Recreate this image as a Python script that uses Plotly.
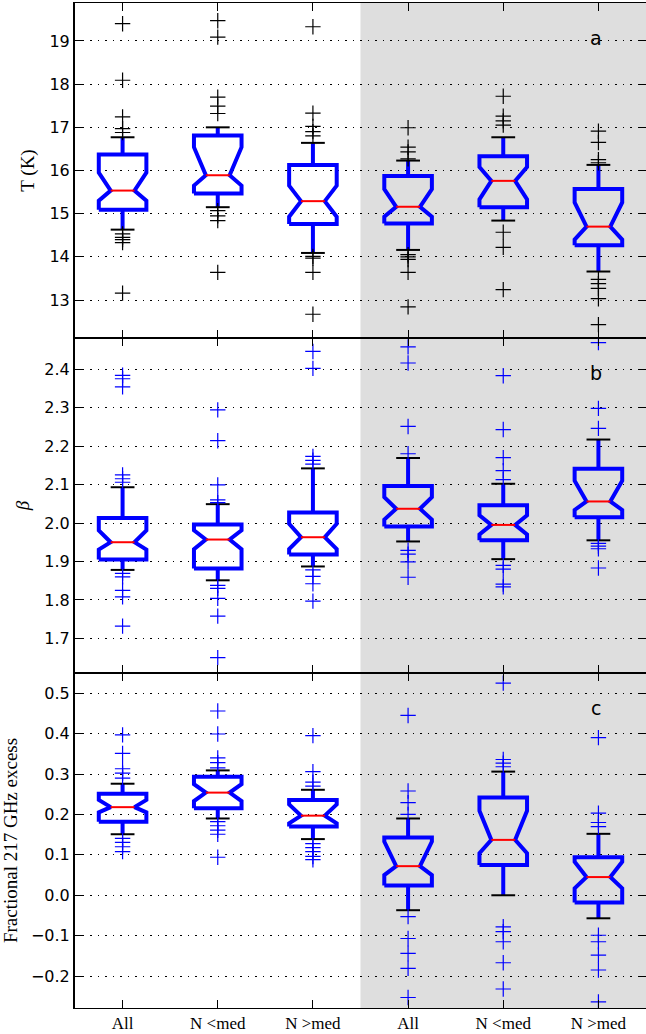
import plotly.graph_objects as go
from plotly.subplots import make_subplots

categories = ["All", "N &lt;med", "N &gt;med", "All", "N &lt;med", "N &gt;med"]
positions = [1, 2, 3, 4, 5, 6]

# panel a : dust temperature
T_q1 = [15.09, 15.47, 14.76, 14.77, 15.15, 14.27]
T_med = [15.535, 15.89, 15.29, 15.16, 15.76, 14.70]
T_q3 = [16.37, 16.81, 16.13, 15.87, 16.33, 15.57]
T_nlo = [15.30, 15.65, 14.93, 14.93, 15.33, 14.40]
T_nhi = [15.95, 16.54, 15.65, 15.57, 16.08, 15.26]
T_wlo = [14.63, 15.15, 14.09, 14.16, 14.84, 13.66]
T_whi = [16.77, 17.00, 16.64, 16.23, 16.77, 16.13]
T_out = [
    [19.40, 18.09, 17.24, 16.97, 16.88, 14.53, 14.45, 14.40, 14.33, 13.16],
    [19.47, 19.09, 17.70, 17.49, 17.32, 15.07, 14.95, 14.84, 13.64],
    [19.33, 17.33, 17.02, 16.90, 16.80, 14.01, 13.97, 13.64, 12.67],
    [16.99, 16.54, 16.43, 16.27, 14.05, 14.00, 13.94, 13.64, 12.84],
    [17.72, 17.26, 17.15, 17.05, 14.57, 14.22, 13.24],
    [16.91, 16.65, 16.25, 16.18, 13.48, 13.38, 13.27, 13.03, 12.43],
]

# panel b : beta
B_q1 = [1.905, 1.882, 1.918, 1.991, 1.955, 2.015]
B_med = [1.950, 1.957, 1.963, 2.037, 1.995, 2.056]
B_q3 = [2.013, 1.996, 2.027, 2.096, 2.046, 2.141]
B_nlo = [1.931, 1.932, 1.932, 2.009, 1.970, 2.034]
B_nhi = [1.981, 1.981, 1.998, 2.067, 2.020, 2.110]
B_wlo = [1.878, 1.851, 1.887, 1.952, 1.906, 1.955]
B_whi = [2.093, 2.049, 2.142, 2.169, 2.102, 2.217]
B_out = [
    [2.384, 2.375, 2.354, 2.125, 2.115, 2.106, 1.869, 1.860, 1.825, 1.808, 1.732],
    [2.294, 2.214, 2.099, 2.060, 2.053, 1.838, 1.830, 1.804, 1.758, 1.650],
    [2.446, 2.402, 2.173, 2.163, 2.153, 1.878, 1.861, 1.842, 1.797],
    [2.458, 2.416, 2.251, 2.180, 1.929, 1.919, 1.899, 1.859],
    [2.383, 2.243, 2.170, 2.136, 2.113, 1.890, 1.880, 1.841, 1.834],
    [2.469, 2.298, 2.246, 1.947, 1.940, 1.933, 1.883],
]

# panel c : fractional 217 GHz excess
F_q1 = [0.182, 0.215, 0.170, 0.024, 0.075, -0.018]
F_med = [0.218, 0.254, 0.197, 0.072, 0.137, 0.045]
F_q3 = [0.251, 0.293, 0.236, 0.143, 0.242, 0.094]
F_nlo = [0.205, 0.233, 0.178, 0.050, 0.104, 0.017]
F_nhi = [0.236, 0.275, 0.225, 0.133, 0.209, 0.083]
F_wlo = [0.151, 0.190, 0.139, -0.037, 0.000, -0.057]
F_whi = [0.276, 0.309, 0.261, 0.190, 0.306, 0.152]
F_out = [
    [0.397, 0.351, 0.313, 0.302, 0.290, 0.141, 0.131, 0.120, 0.108],
    [0.456, 0.399, 0.340, 0.328, 0.315, 0.182, 0.172, 0.161, 0.151, 0.094],
    [0.395, 0.306, 0.280, 0.270, 0.128, 0.118, 0.108, 0.096, 0.088],
    [0.445, 0.258, 0.229, 0.200, -0.053, -0.107, -0.144, -0.181, -0.253],
    [0.525, 0.336, 0.327, 0.318, -0.078, -0.090, -0.115, -0.167, -0.232],
    [0.390, 0.203, 0.180, 0.170, -0.099, -0.115, -0.148, -0.185, -0.264],
]

panels = [
    (T_q1, T_med, T_q3, T_nlo, T_nhi, T_wlo, T_whi, T_out, "black"),
    (B_q1, B_med, B_q3, B_nlo, B_nhi, B_wlo, B_whi, B_out, "blue"),
    (F_q1, F_med, F_q3, F_nlo, F_nhi, F_wlo, F_whi, F_out, "blue"),
]
y_ranges = [[12.12, 19.88], [1.61, 2.481], [-0.279, 0.55]]
y_ticks = [[13, 14, 15, 16, 17, 18, 19],
           [1.7, 1.8, 1.9, 2.0, 2.1, 2.2, 2.3, 2.4],
           [-0.2, -0.1, 0.0, 0.1, 0.2, 0.3, 0.4, 0.5]]
y_fmt = ["d", ".1f", ".1f"]
y_titles = ["T (K)", "<i>β</i>", "Fractional 217 GHz excess"]
labels = ["a", "b", "c"]

W = 0.5  # box width

fig = make_subplots(rows=3, cols=1, shared_xaxes=True, vertical_spacing=0)

for r, (q1, med, q3, nlo, nhi, wlo, whi, outs, fcol) in enumerate(panels, start=1):
    bx, by, wx, wy, cx, cy, mx, my, ox, oy = [], [], [], [], [], [], [], [], [], []
    for i, x in enumerate(positions):
        L, R = x - W / 2, x + W / 2
        l2, r2 = x - W / 4, x + W / 4
        bx += [L, L, l2, L, L, R, R, r2, R, R, L, None]
        by += [q1[i], nlo[i], med[i], nhi[i], q3[i], q3[i], nhi[i], med[i], nlo[i], q1[i], q1[i], None]
        wx += [x, x, None, x, x, None]
        wy += [q3[i], whi[i], None, q1[i], wlo[i], None]
        cx += [l2, r2, None, l2, r2, None]
        cy += [whi[i], whi[i], None, wlo[i], wlo[i], None]
        mx += [l2, r2, None]
        my += [med[i], med[i], None]
        ox += [x] * len(outs[i])
        oy += outs[i]
    fig.add_trace(go.Scatter(x=wx, y=wy, mode="lines", line=dict(color="blue", width=4),
                             hoverinfo="skip"), row=r, col=1)
    fig.add_trace(go.Scatter(x=cx, y=cy, mode="lines", line=dict(color="black", width=2),
                             hoverinfo="skip"), row=r, col=1)
    fig.add_trace(go.Scatter(x=bx, y=by, mode="lines", line=dict(color="blue", width=4),
                             hoverinfo="skip"), row=r, col=1)
    fig.add_trace(go.Scatter(x=mx, y=my, mode="lines", line=dict(color="red", width=2),
                             hoverinfo="skip"), row=r, col=1)
    fig.add_trace(go.Scatter(x=ox, y=oy, mode="markers",
                             marker=dict(symbol="cross-thin", size=11,
                                         line=dict(color=fcol, width=1.2))),
                  row=r, col=1)

    yref = "y" if r == 1 else "y%d" % r
    xref = "x" if r == 1 else "x%d" % r
    fig.add_shape(type="rect", xref=xref, yref=yref + " domain", x0=3.5, x1=6.5, y0=0, y1=1,
                  fillcolor="#dedede", line_width=0, layer="below")
    fig.add_annotation(xref=xref, yref=yref + " domain", x=5.97, y=0.935, text=labels[r - 1],
                       showarrow=False, font=dict(family="DejaVu Sans", size=19, color="black"))

    fig.update_yaxes(row=r, col=1, range=y_ranges[r - 1], tickvals=y_ticks[r - 1],
                     tickformat=y_fmt[r - 1], ticks="inside", ticklen=8, tickwidth=1,
                     tickcolor="black", showline=True, linecolor="black", linewidth=2,
                     mirror="ticks", showgrid=True, gridcolor="black", gridwidth=1,
                     griddash="1.5px,6px", zeroline=False, automargin=False,
                     tickfont=dict(family="DejaVu Sans", size=16, color="black"),
                     title=dict(text=y_titles[r - 1], standoff=10,
                                font=dict(family="Liberation Serif", size=19, color="black")))
    fig.update_xaxes(row=r, col=1, range=[0.5, 6.5], tickvals=positions, ticktext=categories,
                     ticks="inside", ticklen=8, tickwidth=1, tickcolor="black",
                     showline=True, linecolor="black", linewidth=1, mirror="ticks",
                     showgrid=False, zeroline=False, automargin=False,
                     tickfont=dict(family="Liberation Serif", size=17, color="black"))

fig.update_layout(width=646, height=1034, showlegend=False,
                  plot_bgcolor="white", paper_bgcolor="white",
                  margin=dict(l=75, r=0, t=3, b=26))

# the page body has a default 8px margin; drop it so the figure fills the window
fix_page = ("document.body.style.margin='0';"
            "document.body.style.overflow='hidden';"
            "Plotly.relayout('{plot_id}', {width: 646, height: 1034});")
fig.write_html("out.html", post_script=fix_page, config={"displayModeBar": False})
